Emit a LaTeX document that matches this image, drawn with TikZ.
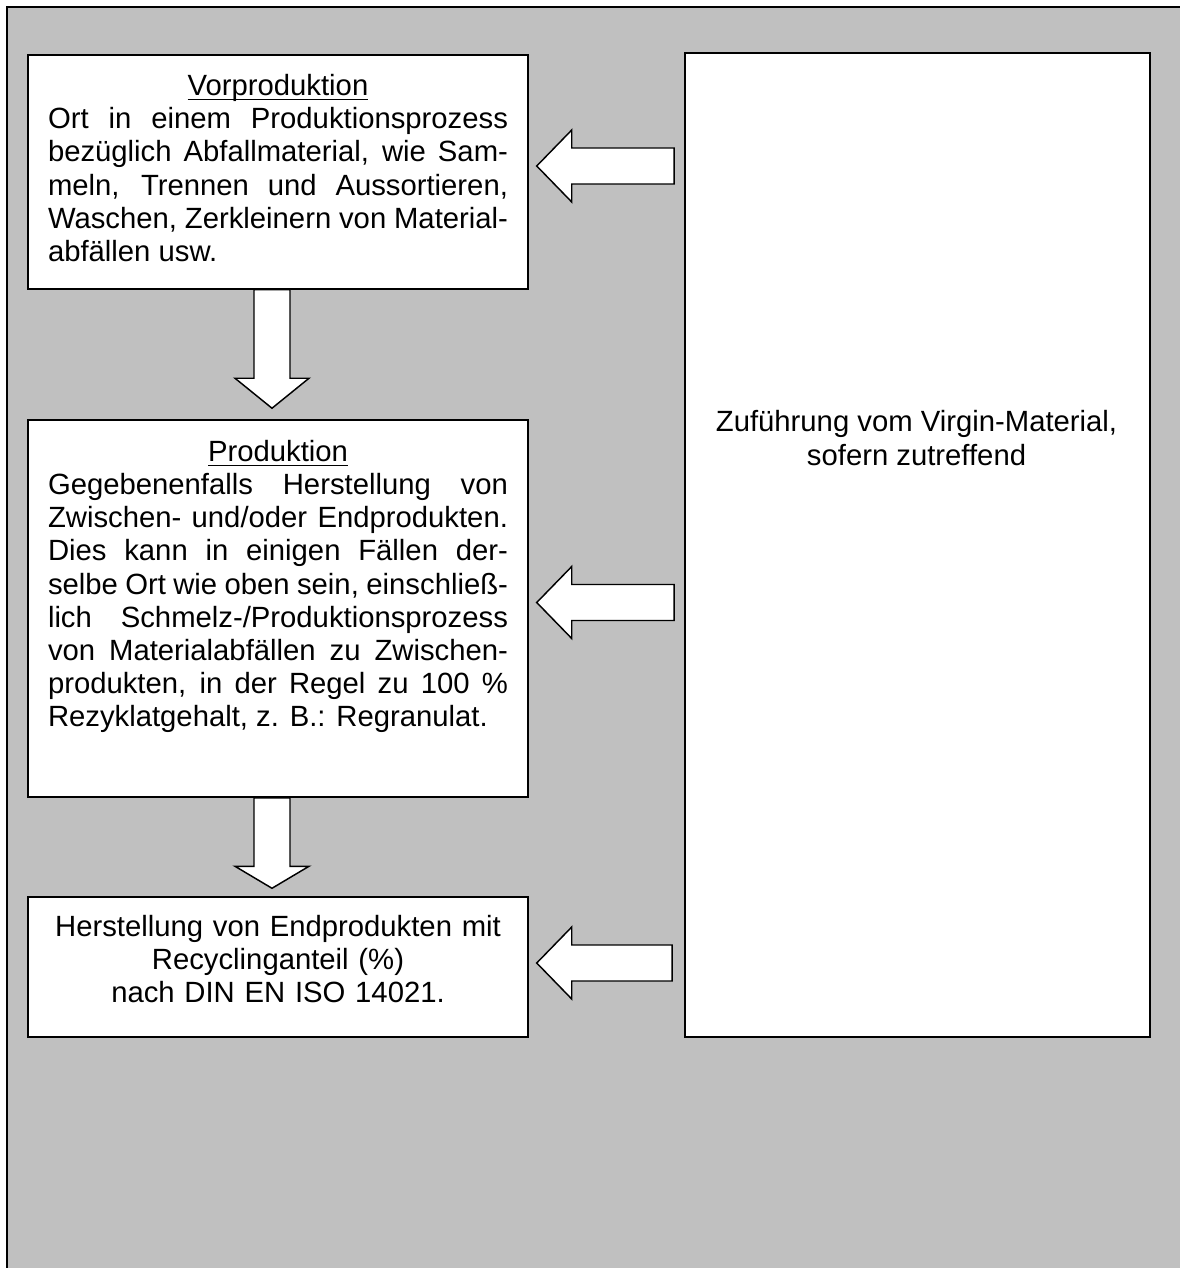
\documentclass[tikz,border=0pt]{standalone}
\usepackage{fontspec}
\setmainfont{Liberation Sans}
\usepackage{tikz}
\usetikzlibrary{calc}
\definecolor{bggray}{HTML}{C0C0C0}
\newcommand{\headline}[1]{\makebox[\linewidth]{\setbox0\hbox{#1}\rlap{\rule[-2pt]{\wd0}{0.6pt}}\box0}\par}
\tolerance=10000
\hbadness=10000

\begin{document}
\begin{tikzpicture}[x=0.41pt, y=-0.41pt,
  every node/.style={font=\fontsize{12}{13.6}\selectfont},
  box/.style={draw, fill=white, line width=0.6pt, inner xsep=8.2pt, inner ysep=0pt, minimum width=205pt, text width=188.6pt},
  blockarrow/.style={draw, fill=white, line width=0.6pt}]
  \useasboundingbox (0,0) rectangle (1179,1268);
  \fill [bggray] (7,7) rectangle (1195,1285);
  \draw [line width=0.5pt] (7,1285) -- (7,7) -- (1195,7);

  \node [box, align=justify, minimum height=95.9pt] (vor) at (278,172) {\headline{Vorproduktion}Ort in einem Produktionsprozess\linebreak bezüglich Abfallmaterial, wie Sam-\linebreak meln, Trennen und Aussortieren,\linebreak Waschen, Zerkleinern von Material-\linebreak abfällen usw.\rule[-3.4pt]{0pt}{0pt}};
  \node [box, align=justify, minimum height=154.6pt] (prod) at (278,608.5) {\headline{Produktion}Gegebenenfalls Herstellung von\linebreak Zwischen- und/oder Endprodukten.\linebreak Dies kann in einigen Fällen der-\linebreak selbe Ort wie oben sein, einschließ-\linebreak lich Schmelz-/Produktionsprozess\linebreak von Materialabfällen zu Zwischen-\linebreak produkten, in der Regel zu 100 \%\linebreak Rezyklatgehalt, z. B.: Regranulat.\rule[-20.5pt]{0pt}{0pt}};
  \node [box, align=center, minimum height=57.4pt] (herst) at (278,967) {Herstellung von Endprodukten mit\\ Recyclinganteil (\%)\\ nach DIN EN ISO 14021.\rule[-6.6pt]{0pt}{0pt}};
  \node [draw, fill=white, line width=0.6pt, inner sep=0pt, minimum width=190.7pt, minimum height=403.4pt] (virgin) at (917.5,545) {};
  \node [align=center, inner sep=0pt] (virgintxt) at (916.5,438) {Zuführung vom Virgin-Material,\\ sofern zutreffend};

  \coordinate (t1) at ($(vor.east)+(8,-6)$);
  \coordinate (t2) at ($(prod.east)+(8,-6)$);
  \coordinate (t3) at ($(herst.east)+(8,-4)$);
  \draw [blockarrow] (t1) -- ++(35,-36) -- ++(0,18) -- ($(virgin.west |- t1)+(-10,-18)$) -- ++(0,36) -- ($(t1)+(35,18)$) -- ++(0,18) -- cycle;
  \draw [blockarrow] (t2) -- ++(35,-36) -- ++(0,18) -- ($(virgin.west |- t2)+(-10,-18)$) -- ++(0,36) -- ($(t2)+(35,18)$) -- ++(0,18) -- cycle;
  \draw [blockarrow] (t3) -- ++(35,-36) -- ++(0,18) -- ($(virgin.west |- t3)+(-12,-18)$) -- ++(0,36) -- ($(t3)+(35,18)$) -- ++(0,18) -- cycle;

  \coordinate (d1) at ($(prod.north)+(-6,-11)$);
  \coordinate (d2) at ($(herst.north)+(-6,-8)$);
  \draw [blockarrow] ($(vor.south)+(-24,0)$) -- ($(vor.south)+(12,0)$) -- ($(d1)+(18,-30)$) -- ++(19,0) -- (d1) -- ($(d1)+(-37,-30)$) -- ++(19,0) -- cycle;
  \draw [blockarrow] ($(prod.south)+(-24,0)$) -- ($(prod.south)+(12,0)$) -- ($(d2)+(18,-22)$) -- ++(19,0) -- (d2) -- ($(d2)+(-37,-22)$) -- ++(19,0) -- cycle;
\end{tikzpicture}
\end{document}
